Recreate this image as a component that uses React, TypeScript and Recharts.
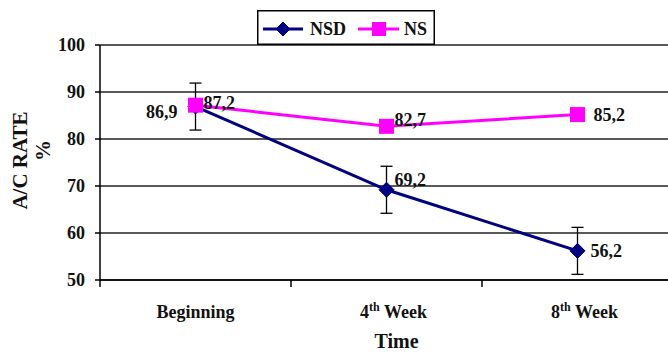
import { CartesianGrid, ErrorBar, LabelList, Legend, Line, LineChart, XAxis, YAxis } from "recharts";

const CATEGORIES = ["Beginning", "4th Week", "8th Week"];
const NSD = [86.9, 69.2, 56.2];
const NSD_ERR = [5, 5, 5];
const NS = [87.2, 82.7, 85.2];
const Y_TICKS = [50, 60, 70, 80, 90, 100];

const NAVY = "#000080";
const MAGENTA = "#ff00ff";
const FONT = "Liberation Serif, DejaVu Serif, serif";

const data = CATEGORIES.map((time, i) => ({
  time,
  nsd: NSD[i],
  nsdErr: NSD_ERR[i],
  ns: NS[i],
}));

// label nudges per point (styling only)
const NSD_LABEL = [
  { dx: -18, dy: 5, anchor: "end" },
  { dx: 8, dy: -10, anchor: "start" },
  { dx: 13, dy: 0, anchor: "start" },
];
const NS_LABEL = [
  { dx: 8, dy: -2, anchor: "start" },
  { dx: 8, dy: -7, anchor: "start" },
  { dx: 16, dy: 0, anchor: "start" },
];

const BAND = (673 - 100) / CATEGORIES.length;
const TXT = { fontFamily: FONT, fontWeight: 700 };

const fmt = (v: number) => v.toFixed(1).replace(".", ",");

function Diamond({ cx, cy, size = 7.5 }: any) {
  if (cx == null || cy == null) return null;
  return (
    <path
      d={`M${cx},${cy - size}L${cx + size},${cy}L${cx},${cy + size}L${cx - size},${cy}Z`}
      fill={NAVY}
      stroke={NAVY}
    />
  );
}

function Square({ cx, cy, side = 15 }: any) {
  if (cx == null || cy == null) return null;
  return <rect x={cx - side / 2} y={cy - side / 2} width={side} height={side} fill={MAGENTA} />;
}

function makeLabel(nudges: typeof NSD_LABEL) {
  return (props: any) => {
    const { x, y, value, index } = props;
    const n = nudges[index];
    return (
      <text
        x={x + n.dx}
        y={y + n.dy}
        dy="0.35em"
        textAnchor={n.anchor}
        style={TXT}
        fontSize={18}
        fill="#111"
      >
        {fmt(value)}
      </text>
    );
  };
}

function TimeTick({ x, y, payload, index }: any) {
  const label: string = payload.value;
  const m = label.match(/^(\d+)(th) (.*)$/);
  const base = y + 36;
  return (
    <g>
      <line x1={x - BAND / 2} y1={y - 2} x2={x - BAND / 2} y2={y + 5} stroke="#000" strokeWidth={1.5} />
      {index === CATEGORIES.length - 1 && (
        <line x1={x + BAND / 2} y1={y - 2} x2={x + BAND / 2} y2={y + 5} stroke="#000" strokeWidth={1.5} />
      )}
      {m ? (
        <text x={x + 7} y={base} textAnchor="middle" style={TXT} fontSize={18} fill="#111">
          <tspan>{m[1]}</tspan>
          <tspan dy={-7} fontSize={12}>{m[2]}</tspan>
          <tspan dy={7}>{" " + m[3]}</tspan>
        </text>
      ) : (
        <text x={x} y={base} textAnchor="middle" style={TXT} fontSize={18} fill="#111">
          {label}
        </text>
      )}
    </g>
  );
}

function YTick({ x, y, payload }: any) {
  return (
    <text x={x} y={y} dy="0.35em" textAnchor="end" style={TXT} fontSize={18} fill="#111">
      {payload.value}
    </text>
  );
}

function LegendBox() {
  return (
    <svg width={178} height={35} style={{ display: "block" }}>
      <rect x={0.75} y={0.75} width={176.5} height={33.5} fill="#fff" stroke="#000" strokeWidth={1.5} />
      <line x1={6} y1={19} x2={46} y2={19} stroke={NAVY} strokeWidth={3} />
      <Diamond cx={26} cy={19} size={7} />
      <text x={53} y={25} style={TXT} fontSize={18} fill="#111">NSD</text>
      <line x1={101} y1={19} x2={142} y2={19} stroke={MAGENTA} strokeWidth={3} />
      <Square cx={122} cy={19} side={14} />
      <text x={147} y={25} style={TXT} fontSize={18} fill="#111">NS</text>
    </svg>
  );
}

export default function App() {
  return (
    <div
      style={{
        position: "absolute",
        left: 0,
        top: 0,
        width: 668,
        height: 354,
        overflow: "hidden",
        background: "#fff",
        fontFamily: FONT,
      }}
    >
      <LineChart width={673} height={354} data={data} margin={{ top: 45, right: 0, bottom: 0, left: 0 }}>
        <CartesianGrid vertical={false} stroke="#222" strokeWidth={1.5} />
        <XAxis
          dataKey="time"
          height={74}
          padding={{ left: BAND / 2, right: BAND / 2 }}
          tickLine={false}
          tickSize={0}
          axisLine={{ stroke: "#000", strokeWidth: 1.5 }}
          tick={<TimeTick />}
          interval={0}
          label={(props: any) => {
            const vb = props.viewBox;
            return (
              <text x={vb.x + vb.width / 2 + 10} y={348} textAnchor="middle" style={TXT} fontSize={20} fill="#111">
                Time
              </text>
            );
          }}
        />
        <YAxis
          width={100}
          domain={[50, 100]}
          ticks={Y_TICKS}
          interval={0}
          tickSize={5}
          tickMargin={10}
          axisLine={{ stroke: "#000", strokeWidth: 1.5 }}
          tickLine={{ stroke: "#000", strokeWidth: 1.5 }}
          tick={<YTick />}
          label={(props: any) => {
            const vb = props.viewBox;
            const cy = vb.y + vb.height / 2 - 2;
            return (
              <g>
                <text x={20} y={cy} textAnchor="middle" dy="0.35em" transform={`rotate(-90 20 ${cy})`} style={TXT} fontSize={21} fill="#111">
                  A/C RATE
                </text>
                <text x={43} y={cy - 10} textAnchor="middle" dy="0.35em" transform={`rotate(-90 43 ${cy - 10})`} style={TXT} fontSize={21} fill="#111">
                  %
                </text>
              </g>
            );
          }}
        />
        <Legend
          layout="horizontal"
          verticalAlign="middle"
          align="center"
          wrapperStyle={{ position: "absolute", top: 10, left: 257, width: 178, height: 35 }}
          content={() => <LegendBox />}
        />
        <Line
          dataKey="nsd"
          name="NSD"
          stroke={NAVY}
          strokeWidth={3}
          dot={<Diamond />}
          activeDot={false}
          isAnimationActive={false}
        >
          <ErrorBar dataKey="nsdErr" width={6} stroke="#000" strokeWidth={1.3} direction="y" />
          <LabelList dataKey="nsd" content={makeLabel(NSD_LABEL)} />
        </Line>
        <Line
          dataKey="ns"
          name="NS"
          stroke={MAGENTA}
          strokeWidth={3}
          dot={<Square />}
          activeDot={false}
          isAnimationActive={false}
        >
          <LabelList dataKey="ns" content={makeLabel(NS_LABEL)} />
        </Line>
      </LineChart>
    </div>
  );
}
